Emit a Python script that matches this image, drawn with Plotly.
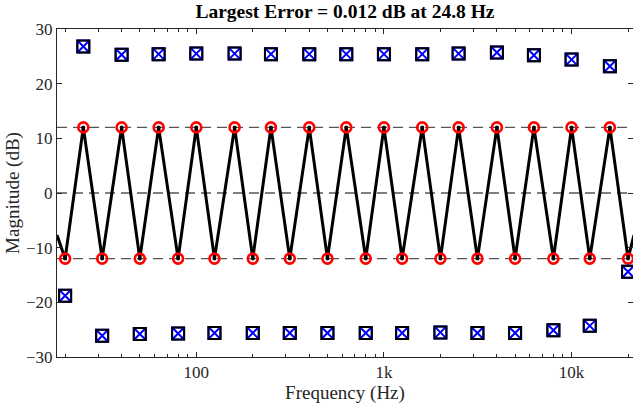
import plotly.graph_objects as go
import numpy as np

# --- data ---
freqs = [20, 25, 31.5, 40, 50, 63, 80, 100, 125, 160, 200, 250, 315, 400, 500, 630,
         800, 1000, 1250, 1600, 2000, 2500, 3150, 4000, 5000, 6300, 8000, 10000,
         12500, 16000, 20000]
target_db = [-12, 12, -12, 12, -12, 12, -12, 12, -12, 12, -12, 12, -12, 12, -12, 12,
             -12, 12, -12, 12, -12, 12, -12, 12, -12, 12, -12, 12, -12, 12, -12]
filter_gain_db = [-18.8, 26.8, -26.1, 25.3, -25.8, 25.4, -25.7, 25.5, -25.6, 25.5,
                  -25.6, 25.4, -25.6, 25.4, -25.6, 25.4, -25.6, 25.4, -25.6, 25.4,
                  -25.5, 25.5, -25.6, 25.7, -25.6, 25.2, -25.1, 24.4, -24.3, 23.2, -14.4]
# response curve (edges + band centres)
resp_freqs = [18.1] + freqs + [21500]
resp_db = [-7.7] + target_db + [-7.7]
ref_levels = [12, 0, -12]
x_range_hz = [18.1, 21250]
y_range = [-30, 30]
y_ticks = [-30, -20, -10, 0, 10, 20, 30]
x_tickvals = [100, 1000, 10000]
x_ticktext = ["100", "1k", "10k"]
title_text = "Largest Error = 0.012 dB at 24.8 Hz"

minor_vals = [m * 10 ** e for e in range(1, 5) for m in range(2, 10)]

FONT = "Liberation Serif, Times New Roman, serif"
AX = "#262626"

fig = go.Figure()

fig.add_trace(go.Scatter(x=resp_freqs, y=resp_db, mode="lines",
                         line=dict(color="black", width=3), hoverinfo="skip"))
fig.add_trace(go.Scatter(x=freqs, y=target_db, mode="markers",
                         marker=dict(symbol="circle-open", size=10, color="red",
                                     line=dict(color="red", width=2.6))))
fig.add_trace(go.Scatter(x=freqs, y=target_db, mode="markers",
                         marker=dict(symbol="circle", size=4, color="black")))
fig.add_trace(go.Scatter(x=freqs, y=filter_gain_db, mode="markers",
                         marker=dict(symbol="square-x-open", size=12, color="blue",
                                     line=dict(color="blue", width=2))))
fig.add_trace(go.Scatter(x=freqs, y=filter_gain_db, mode="markers",
                         marker=dict(symbol="square-open", size=12, color="black",
                                     line=dict(color="black", width=2))))

for v in ref_levels:
    fig.add_hline(y=v, line=dict(color="#555555", width=1.4, dash="10px,6px"),
                  layer="below")

fig.update_layout(
    width=633, height=410,
    margin=dict(l=57, r=0, t=29, b=53),
    paper_bgcolor="white", plot_bgcolor="white",
    showlegend=False,
    font=dict(family=FONT, color=AX, size=17),
    title=dict(text="<b>" + title_text + "</b>", x=0.545, xanchor="center",
               y=0.99, yanchor="top", font=dict(family=FONT, size=19.5, color="black")),
)
fig.update_xaxes(
    type="log", range=[np.log10(x_range_hz[0]), np.log10(x_range_hz[1])],
    showline=True, linecolor=AX, linewidth=1, mirror="ticks",
    ticks="inside", ticklen=5, tickcolor=AX, tickwidth=1,
    tickmode="array", tickvals=x_tickvals, ticktext=x_ticktext,
    showgrid=False, zeroline=False, automargin=False,
    tickfont=dict(size=17, color=AX),
    minor=dict(tickmode="array", tickvals=minor_vals, ticks="inside", ticklen=3,
               tickcolor=AX, showgrid=False),
    title=dict(text="Frequency (Hz)", font=dict(size=19, color=AX), standoff=4),
)
fig.update_yaxes(
    range=y_range, tickvals=y_ticks,
    showline=True, linecolor=AX, linewidth=1, mirror="ticks",
    ticks="inside", ticklen=5, tickcolor=AX, tickwidth=1,
    showgrid=False, zeroline=False, automargin=False,
    tickfont=dict(size=17, color=AX),
    title=dict(text="Magnitude (dB)", font=dict(size=19, color=AX), standoff=1),
)

fig.write_html("out.html", config={"displayModeBar": False},
               post_script="document.body.style.margin='0';document.body.style.padding='0';")
